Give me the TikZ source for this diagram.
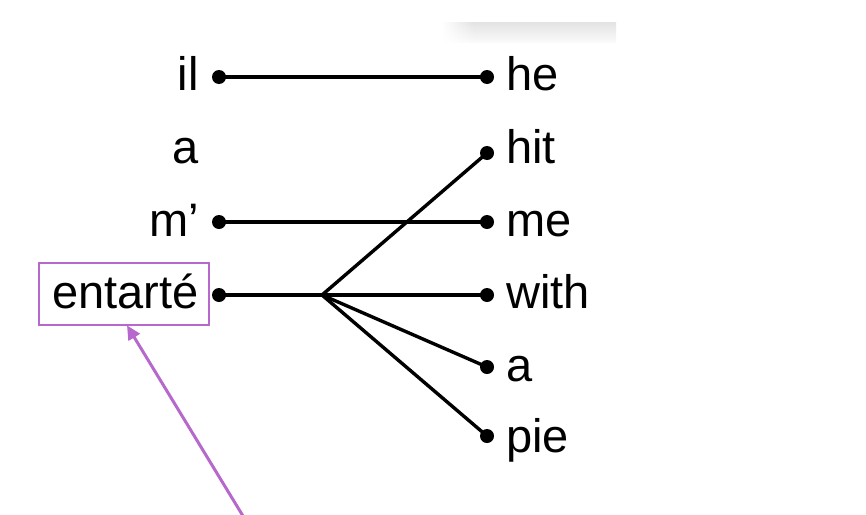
\documentclass[tikz,border=0pt]{standalone}
\usepackage{fontspec}
\setmainfont{Liberation Sans}
\usetikzlibrary{arrows.meta}
\definecolor{pur}{RGB}{182,104,204}
\tikzset{
  wordL/.style={anchor=base east, inner sep=0pt, font=\fontsize{47}{56}\selectfont},
  wordR/.style={anchor=base west, inner sep=0pt, font=\fontsize{47}{56}\selectfont},
  link/.style={line width=3.4pt, black, line cap=round},
  dotmark/.style={circle, fill=black, inner sep=0pt, minimum size=14pt},
  hlbox/.style={draw=pur, line width=2.8pt, minimum width=170pt, minimum height=62pt, inner sep=0pt},
  pointer/.style={draw=pur, line width=3pt, -{Triangle[length=14pt,width=13pt]}},
  shadowstrip/.style={top color=black!11, bottom color=black!2}
}
\begin{document}
\begin{tikzpicture}[x=1pt,y=-1pt]
\useasboundingbox (0,0) rectangle (866,514);
% faint shadow strip at top
\shade[shadowstrip] (473,22) rectangle (616,42);
\foreach \i in {1,...,15} {
  \shade[shadowstrip, opacity=\i/16] ({441+2*\i},22) rectangle ({443.2+2*\i},42);
}
% left words
\node[wordL] (il) at (199,90) {il};
\node[wordL] (aL) at (199,163) {a};
\node[wordL] (m) at (199,236) {m’};
\node[wordL] (ent) at (199,308) {entarté};
\node[hlbox] (box) at (124,294) {};
% right words
\node[wordR] (he) at (506,90) {he};
\node[wordR] (hit) at (506,163) {hit};
\node[wordR] (me) at (506,236) {me};
\node[wordR] (with) at (506,308) {with};
\node[wordR] (aR) at (506,381) {a};
\node[wordR] (pie) at (506,452) {pie};
% dots
\node[dotmark] (dil) at (219,77) {};
\node[dotmark] (dm) at (219,222) {};
\node[dotmark] (dent) at (219,295) {};
\node[dotmark] (dhe) at (487,77) {};
\node[dotmark] (dhit) at (487,153) {};
\node[dotmark] (dme) at (487,222) {};
\node[dotmark] (dwith) at (487,295) {};
\node[dotmark] (daR) at (487,367) {};
\node[dotmark] (dpie) at (487,436) {};
\coordinate (J) at (322,295);
% links
\draw[link] (dil.center) -- (dhe.center);
\draw[link] (dm.center) -- (dme.center);
\draw[link] (dent.center) -- (J);
\draw[link] (J) -- (dhit.center);
\draw[link] (J) -- (dwith.center);
\draw[link] (J) -- (daR.center);
\draw[link] (J) -- (dpie.center);
% pointer
\coordinate (ptail) at (243,516);
\draw[pointer] (ptail) -- ([xshift=3pt,yshift=1pt]box.south);
\end{tikzpicture}
\end{document}
